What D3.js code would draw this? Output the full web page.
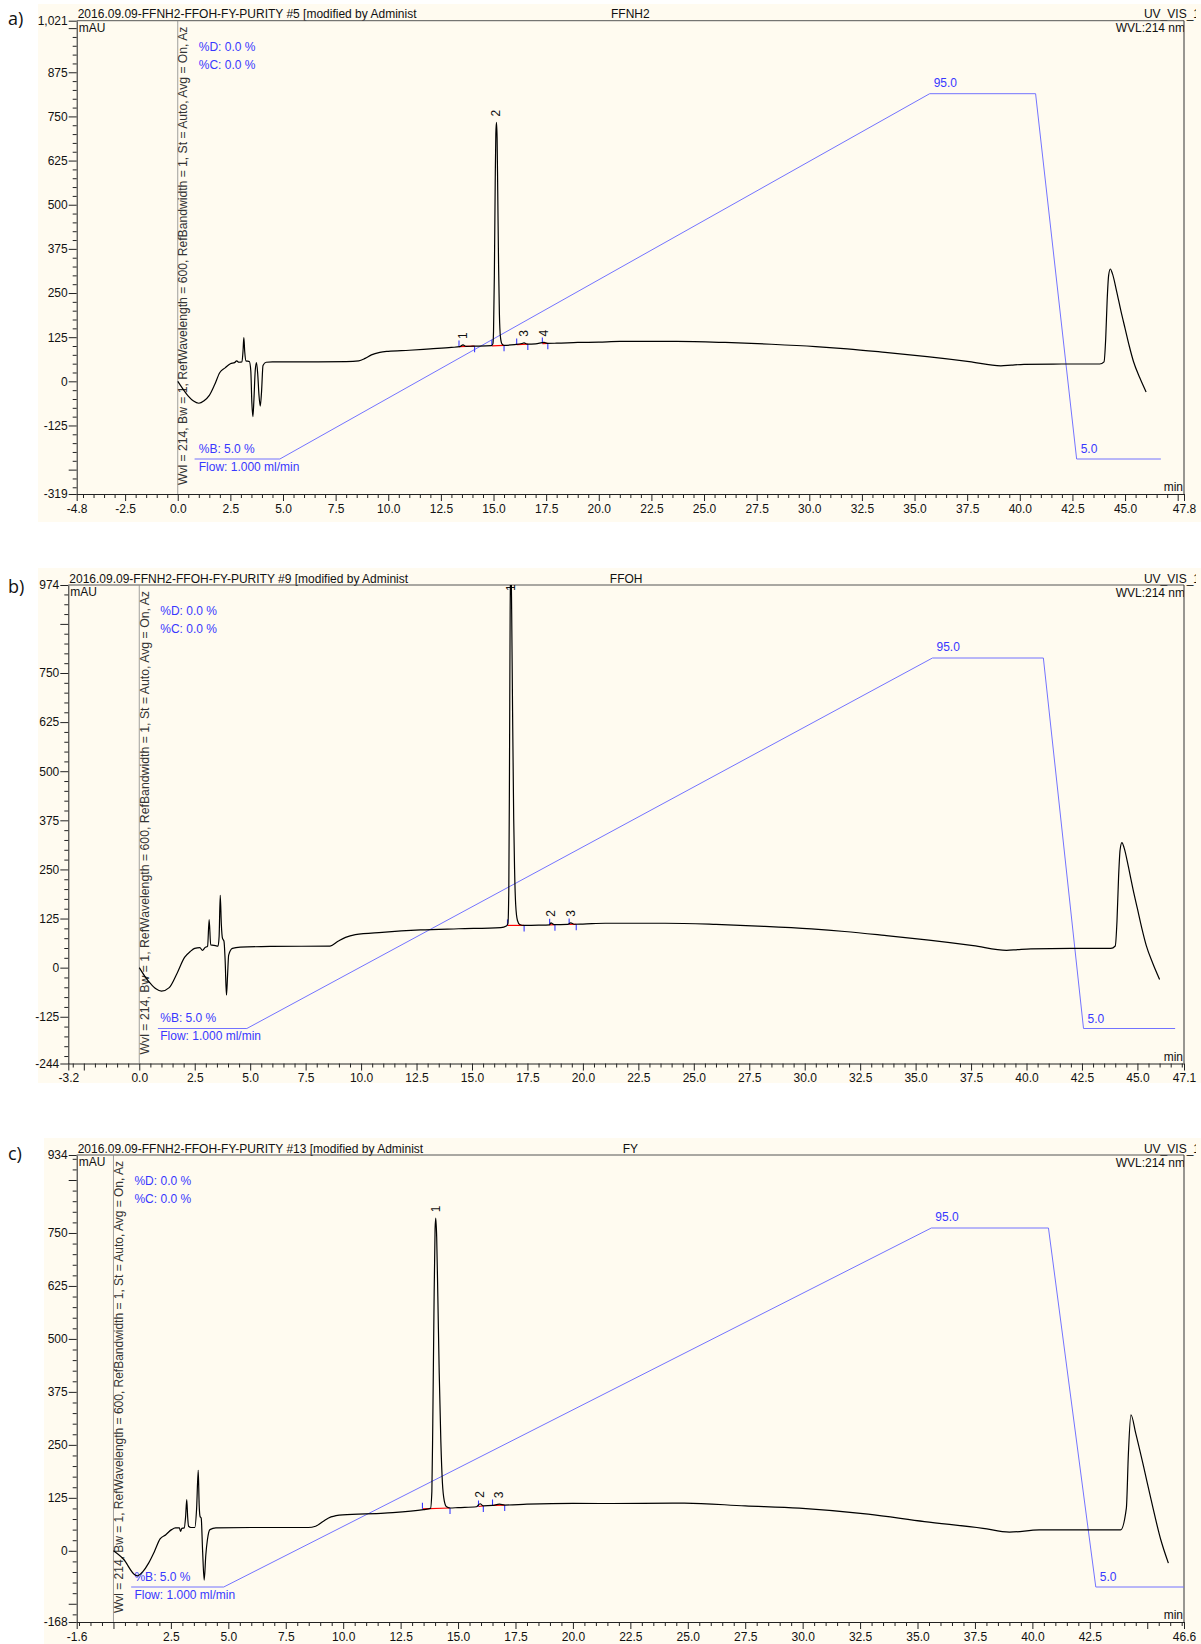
<!DOCTYPE html>
<html>
<head>
<meta charset="utf-8">
<script src="https://cdn.jsdelivr.net/npm/d3@7/dist/d3.min.js"></script>
<style>
body { margin: 0; background: #ffffff; }
svg text { font-family: "Liberation Sans", Arial, sans-serif; }
</style>
</head>
<body>
<script>
// ---- chart values ----
var panelLetters = ["a)", "b)", "c)"];
var runTitles = [
	"2016.09.09-FFNH2-FFOH-FY-PURITY #5 [modified by Administ",
	"2016.09.09-FFNH2-FFOH-FY-PURITY #9 [modified by Administ",
	"2016.09.09-FFNH2-FFOH-FY-PURITY #13 [modified by Administ"
];
var sampleNames = ["FFNH2", "FFOH", "FY"];
var channelName = "UV_VIS_1";
var wavelengthName = "WVL:214 nm";
var detectorInfo = "Wvl = 214, Bw = 1, RefWavelength = 600, RefBandwidth = 1, St = Auto, Avg = On, Az";

var timeDomainA = [-4.8, 47.8];
var timeDomainB = [-3.2, 47.1];
var timeDomainC = [-1.6, 46.6];
var signalDomainA = [-319, 1021];
var signalDomainB = [-244, 974];
var signalDomainC = [-168, 934];

var yTickLabelsA = [1021, 875, 750, 625, 500, 375, 250, 125, 0, -125, -319];
var yTickLabelsB = [974, 750, 625, 500, 375, 250, 125, 0, -125, -244];
var yTickLabelsC = [934, 750, 625, 500, 375, 250, 125, 0, -168];
var xTickLabelsA = [-4.8, -2.5, 0.0, 2.5, 5.0, 7.5, 10.0, 12.5, 15.0, 17.5, 20.0, 22.5, 25.0, 27.5, 30.0, 32.5, 35.0, 37.5, 40.0, 42.5, 45.0, 47.8];
var xTickLabelsB = [-3.2, 0.0, 2.5, 5.0, 7.5, 10.0, 12.5, 15.0, 17.5, 20.0, 22.5, 25.0, 27.5, 30.0, 32.5, 35.0, 37.5, 40.0, 42.5, 45.0, 47.1];
var xTickLabelsC = [-1.6, 2.5, 5.0, 7.5, 10.0, 12.5, 15.0, 17.5, 20.0, 22.5, 25.0, 27.5, 30.0, 32.5, 35.0, 37.5, 40.0, 42.5, 46.6];

// [time min, signal mAU]
var traceA = [
	[0.00, 0], [0.25, -22], [0.50, -42], [0.75, -56], [1.00, -62], [1.25, -55], [1.50, -40], [1.75, -10],
	[2.00, 25], [2.25, 38], [2.50, 50], [2.70, 53], [2.80, 58], [2.90, 54], [3.05, 55], [3.10, 85],
	[3.14, 124], [3.18, 85], [3.24, 58], [3.40, 56], [3.47, 30], [3.52, -60], [3.57, -100], [3.62, -50],
	[3.68, 30], [3.74, 53], [3.80, 20], [3.86, -40], [3.92, -70], [3.98, -30], [4.05, 45], [4.20, 54],
	[4.50, 55], [6.00, 55], [8.00, 56], [8.60, 58], [8.90, 65], [9.20, 75], [9.60, 82], [10.0, 85],
	[11.0, 88], [12.0, 92], [13.0, 96], [13.4, 98], [13.55, 103], [13.7, 99], [14.0, 99.5], [14.9, 101],
	[14.97, 106], [15.00, 140], [15.04, 300], [15.08, 560], [15.11, 700], [15.14, 733], [15.17, 690],
	[15.20, 540], [15.24, 330], [15.28, 190], [15.33, 125], [15.40, 106], [15.50, 102], [16.0, 104],
	[16.35, 107], [16.45, 109], [16.6, 105.5], [17.0, 106], [17.4, 110], [17.55, 107.5], [18.0, 108],
	[19.0, 110], [20.0, 111], [21.0, 113], [23.7, 113], [26.0, 110], [28.2, 105], [30.3, 98.5],
	[31.8, 92], [33.6, 82], [35.6, 70], [37.6, 56], [39.1, 44], [39.6, 46], [40.2, 48], [42.0, 49],
	[43.8, 49], [44.0, 55], [44.08, 120], [44.15, 230], [44.22, 300], [44.3, 318], [44.4, 305],
	[44.6, 255], [44.8, 200], [45.0, 150], [45.2, 100], [45.4, 56], [45.7, 10], [46.0, -30]
];
var traceB = [
	[0.00, 0], [0.25, -22], [0.50, -40], [0.75, -54], [1.00, -60], [1.35, -51], [1.70, -15], [2.04, 26],
	[2.30, 41], [2.50, 49], [2.73, 51], [2.85, 44], [2.96, 51], [3.08, 55], [3.15, 122], [3.22, 58],
	[3.43, 56], [3.55, 55], [3.60, 80], [3.65, 184], [3.70, 110], [3.75, 75], [3.82, 67], [3.87, 20],
	[3.93, -70], [3.98, -20], [4.03, 32], [4.20, 49], [4.55, 52], [6.00, 54], [8.60, 55], [8.96, 67],
	[9.30, 77], [9.74, 84], [10.95, 90], [12.68, 96], [14.40, 99], [16.30, 102], [16.55, 106],
	[16.62, 112], [16.66, 200], [16.69, 500], [16.72, 900], [16.75, 1060], [16.79, 900], [16.83, 650],
	[16.88, 380], [16.92, 250], [16.97, 160], [17.05, 120], [17.15, 110], [17.35, 107.5], [18.0, 108],
	[18.5, 109], [18.56, 114], [18.7, 109.5], [19.3, 110], [19.45, 114], [19.6, 110.5], [20.0, 111],
	[21.0, 113], [23.7, 113], [26.0, 110], [28.2, 105], [30.3, 98.5], [31.8, 92], [33.6, 82], [35.6, 70],
	[37.6, 56], [39.1, 44], [39.6, 46], [40.2, 48], [42.0, 49], [43.8, 49], [44.0, 55], [44.08, 120],
	[44.15, 230], [44.22, 300], [44.3, 318], [44.4, 305], [44.6, 255], [44.8, 200], [45.0, 150],
	[45.2, 100], [45.4, 56], [45.7, 10], [46.0, -30]
];
var traceC = [
	[0.00, 0], [0.44, -20], [0.94, -57], [1.05, -59], [1.28, -49], [1.53, -29], [1.78, -2], [2.03, 28],
	[2.28, 38], [2.53, 50], [2.70, 54], [2.87, 54], [2.92, 46], [2.98, 53], [3.08, 54], [3.14, 80],
	[3.19, 121], [3.23, 80], [3.27, 58], [3.37, 55], [3.54, 55], [3.62, 100], [3.69, 190], [3.73, 110],
	[3.77, 81], [3.82, 77], [3.88, 0], [3.95, -69], [4.02, -10], [4.09, 26], [4.20, 50], [4.46, 54],
	[6.00, 55], [8.47, 55], [8.80, 58], [9.14, 70], [9.47, 80], [9.98, 85], [11.8, 89], [13.5, 97],
	[13.8, 100], [13.86, 140], [13.90, 300], [13.95, 560], [14.00, 760], [14.03, 785], [14.07, 740],
	[14.12, 600], [14.18, 420], [14.25, 260], [14.32, 160], [14.40, 118], [14.50, 104], [14.65, 101],
	[15.0, 102], [15.8, 104], [15.96, 111], [16.1, 106], [16.5, 107], [16.8, 110], [17.03, 108],
	[18.0, 110], [20.0, 112], [21.2, 111.6], [24.85, 112.4], [27.5, 106], [29.85, 100.6], [32.85, 86.4],
	[35.3, 69], [37.85, 53], [39.0, 44], [40.3, 49.3], [43.84, 49.3], [44.09, 100], [44.18, 230],
	[44.29, 321], [44.5, 277], [44.84, 199], [45.17, 120], [45.59, 26], [45.92, -29]
];

// pump gradient, %B against time
var gradientTimeA = [0.8, 4.85, 35.72, 40.75, 42.7, 46.7];
var gradientTimeB = [0.84, 4.85, 35.76, 40.76, 42.57, 46.7];
var gradientTimeC = [0.77, 4.8, 35.6, 40.7, 42.76, 46.6];
var gradientPct = [5, 5, 95, 95, 5, 5];

// integrated peaks: start/end of baseline and apex
var peaksA = [
	{ name: "1", start: 13.36, startV: 98.5, end: 14.1, endV: 99.5, apex: 13.54, apexV: 103 },
	{ name: "2", start: 14.92, startV: 100.5, end: 15.5, endV: 102, apex: 15.14, apexV: 733 },
	{ name: "3", start: 16.1, startV: 104, end: 16.63, endV: 105.5, apex: 16.45, apexV: 109 },
	{ name: "4", start: 17.32, startV: 107, end: 17.58, endV: 107.5, apex: 17.4, apexV: 110 }
];
var peaksB = [
	{ name: "1", start: 16.6, startV: 107.5, end: 17.35, endV: 107.5, apex: 16.75, apexV: 1060 },
	{ name: "2", start: 18.5, startV: 109, end: 18.74, endV: 109.5, apex: 18.56, apexV: 114 },
	{ name: "3", start: 19.38, startV: 110, end: 19.7, endV: 110.5, apex: 19.45, apexV: 114 }
];
var peaksC = [
	{ name: "1", start: 13.45, startV: 99, end: 14.65, endV: 101, apex: 14.03, apexV: 785 },
	{ name: "2", start: 15.89, startV: 104.5, end: 16.1, endV: 106, apex: 15.96, apexV: 111 },
	{ name: "3", start: 16.5, startV: 107, end: 17.03, endV: 108, apex: 16.8, apexV: 110 }
];

// ---- layout of the three panels ----
var panels = [
	{ letter: panelLetters[0], title: runTitles[0], sample: sampleNames[0], timeDomain: timeDomainA, signalDomain: signalDomainA,
	  yLabels: yTickLabelsA, xLabels: xTickLabelsA, trace: traceA, gradTime: gradientTimeA, peaks: peaksA,
	  left: 76.7, right: 1184, top: 20.7, bottom: 494, bgX: 38, bgTop: 4, bgBottom: 522, letterY: 25 },
	{ letter: panelLetters[1], title: runTitles[1], sample: sampleNames[1], timeDomain: timeDomainB, signalDomain: signalDomainB,
	  yLabels: yTickLabelsB, xLabels: xTickLabelsB, trace: traceB, gradTime: gradientTimeB, peaks: peaksB,
	  left: 68.3, right: 1184, top: 585, bottom: 1063.5, bgX: 38, bgTop: 568, bgBottom: 1083, letterY: 593 },
	{ letter: panelLetters[2], title: runTitles[2], sample: sampleNames[2], timeDomain: timeDomainC, signalDomain: signalDomainC,
	  yLabels: yTickLabelsC, xLabels: xTickLabelsC, trace: traceC, gradTime: gradientTimeC, peaks: peaksC,
	  left: 76.7, right: 1184, top: 1155, bottom: 1622, bgX: 44, bgTop: 1138, bgBottom: 1644, letterY: 1160 }
];

var blue = "#3838ff";
var svg = d3.select("body").append("svg").attr("width", 1201).attr("height", 1644);
svg.append("rect").attr("width", 1201).attr("height", 1644).attr("fill", "#ffffff");

// clip for the header text on the right
svg.append("clipPath").attr("id", "clip-page").append("rect").attr("x", 0).attr("y", 0).attr("width", 1196).attr("height", 1644);

function formatSignal(d) {
	return d >= 1000 ? d3.format(",")(d) : String(d);
}

function drawPanel(p, i) {
	var g = svg.append("g");

	//Cream background.
	g.append("rect").attr("x", p.bgX).attr("y", p.bgTop).attr("width", 1201 - p.bgX).attr("height", p.bgBottom - p.bgTop)
		.attr("fill", "#fffbf0");

	g.append("text").attr("x", 8).attr("y", p.letterY).text(p.letter)
		.style("font-family", "'Open Sans', 'Noto Sans', sans-serif").style("font-size", "18px").attr("fill", "#111");

	var x = d3.scaleLinear().domain(p.timeDomain).range([p.left, p.right]);
	var y = d3.scaleLinear().domain(p.signalDomain).range([p.bottom, p.top]);
	var gradY = d3.scaleLinear().domain([5, 95]).range([p.bottom - 35, p.top + 73]);

	var clipId = "clip-" + i;
	svg.append("clipPath").attr("id", clipId).append("rect")
		.attr("x", p.left).attr("y", p.top).attr("width", p.right - p.left).attr("height", p.bottom - p.top);

	//Header texts.
	g.append("text").attr("x", p.left + 1).attr("y", p.top - 2.5).text(p.title).style("font-size", "12px").attr("fill", "#111");
	g.append("text").attr("x", (p.left + p.right) / 2).attr("y", p.top - 2.5).attr("text-anchor", "middle")
		.text(p.sample).style("font-size", "12px").attr("fill", "#111");
	g.append("text").attr("x", 1200).attr("y", p.top - 2.5).attr("text-anchor", "end").attr("clip-path", "url(#clip-page)")
		.text(channelName).style("font-size", "12px").attr("fill", "#111");
	g.append("text").attr("x", p.right + 1).attr("y", p.top + 11.5).attr("text-anchor", "end").attr("clip-path", "url(#" + clipId + ")")
		.text(wavelengthName).style("font-size", "12px").attr("fill", "#111");
	g.append("text").attr("x", p.left + 2).attr("y", p.top + 11).text("mAU").style("font-size", "12px").attr("fill", "#111");
	g.append("text").attr("x", p.right - 1).attr("y", p.bottom - 3).attr("text-anchor", "end").text("min")
		.style("font-size", "12px").attr("fill", "#111");

	//Minor and major ticks of the signal axis.
	var lo = p.signalDomain[0], hi = p.signalDomain[1];
	var minorY = d3.range(Math.ceil(lo / 25) * 25, hi, 25).filter(function(d) { return d % 125 != 0; });
	var majorY = d3.range(Math.ceil(lo / 125) * 125, hi, 125).concat([lo, hi]);
	g.append("g").attr("transform", "translate(" + p.left + ",0)")
		.call(d3.axisLeft(y).tickValues(minorY).tickSize(4).tickSizeOuter(0).tickFormat(""))
		.call(function(a) { a.select(".domain").remove(); });
	g.append("g").attr("class", "yaxis").attr("transform", "translate(" + p.left + ",0)")
		.call(d3.axisLeft(y).tickValues(majorY).tickSize(8).tickSizeOuter(0).tickPadding(1)
			.tickFormat(function(d) { return p.yLabels.indexOf(d) >= 0 ? formatSignal(d) : ""; }));

	//Minor and major ticks of the time axis.
	var tlo = p.timeDomain[0], thi = p.timeDomain[1];
	var minorX = d3.range(Math.ceil(tlo / 0.5) * 0.5, thi, 0.5).filter(function(d) { return Math.abs(d / 2.5 - Math.round(d / 2.5)) > 1e-6; });
	var majorX = d3.range(Math.ceil(tlo / 2.5) * 2.5, thi, 2.5).concat([tlo, thi]);
	g.append("g").attr("transform", "translate(0," + p.bottom + ")")
		.call(d3.axisBottom(x).tickValues(minorX).tickSize(4).tickSizeOuter(0).tickFormat(""))
		.call(function(a) { a.select(".domain").remove(); });
	g.append("g").attr("class", "xaxis").attr("transform", "translate(0," + p.bottom + ")")
		.call(d3.axisBottom(x).tickValues(majorX).tickSize(7).tickSizeOuter(0).tickPadding(3)
			.tickFormat(function(d) {
				var hit = p.xLabels.some(function(v) { return Math.abs(v - d) < 1e-6; });
				return hit ? d.toFixed(1) : "";
			}));

	g.selectAll(".tick line, .domain").attr("stroke", "#222");
	g.selectAll(".tick text").style("font-size", "12px").attr("fill", "#111");

	//Top and right frame.
	g.append("line").attr("x1", p.left).attr("x2", p.right).attr("y1", p.top).attr("y2", p.top).attr("stroke", "#555");
	g.append("line").attr("x1", p.right).attr("x2", p.right).attr("y1", p.top).attr("y2", p.bottom).attr("stroke", "#333");

	//Injection line at time zero with the detector settings along it.
	g.append("line").attr("x1", x(0)).attr("x2", x(0)).attr("y1", p.top).attr("y2", p.bottom).attr("stroke", "#888").attr("stroke-width", 0.8);
	g.append("text").attr("transform", "translate(" + (x(0) + 9.5) + "," + (p.bottom - 9) + ") rotate(-90)")
		.attr("textLength", p.bottom - p.top - 15).attr("lengthAdjust", "spacingAndGlyphs")
		.text(detectorInfo).style("font-size", "12px").attr("fill", "#333");

	g.append("text").attr("x", x(0) + 21).attr("y", p.top + 30).text("%D: 0.0 %").style("font-size", "12px").attr("fill", blue);
	g.append("text").attr("x", x(0) + 21).attr("y", p.top + 48).text("%C: 0.0 %").style("font-size", "12px").attr("fill", blue);

	//Gradient profile.
	var grad = p.gradTime.map(function(t, k) { return [t, gradientPct[k]]; });
	g.append("path").datum(grad).attr("fill", "none").attr("stroke", "#7373ff").attr("stroke-width", 1)
		.attr("d", d3.line().x(function(d) { return x(d[0]); }).y(function(d) { return gradY(d[1]); }));
	g.append("text").attr("x", x(0) + 21).attr("y", gradY(5) - 6.5).text("%B: 5.0 %").style("font-size", "12px").attr("fill", blue);
	g.append("text").attr("x", x(0) + 21).attr("y", gradY(5) + 11.5).text("Flow: 1.000 ml/min").style("font-size", "12px").attr("fill", blue);
	g.append("text").attr("x", x(p.gradTime[2]) + 4).attr("y", gradY(95) - 7).text("95.0").style("font-size", "12px").attr("fill", blue);
	g.append("text").attr("x", x(p.gradTime[4]) + 4).attr("y", gradY(5) - 6).text("5.0").style("font-size", "12px").attr("fill", blue);

	//Integration baselines and delimiters.
	var pk = g.append("g");
	pk.selectAll(".base").data(p.peaks).enter().append("line")
		.attr("x1", function(d) { return x(d.start); }).attr("y1", function(d) { return y(d.startV); })
		.attr("x2", function(d) { return x(d.end); }).attr("y2", function(d) { return y(d.endV); })
		.attr("stroke", "#ff0000").attr("stroke-width", 1.2);
	pk.selectAll(".tstart").data(p.peaks).enter().append("line")
		.attr("x1", function(d) { return x(d.start); }).attr("x2", function(d) { return x(d.start); })
		.attr("y1", function(d) { return y(d.startV); }).attr("y2", function(d) { return y(d.startV) - 6; })
		.attr("stroke", blue).attr("stroke-width", 1.1);
	pk.selectAll(".tend").data(p.peaks).enter().append("line")
		.attr("x1", function(d) { return x(d.end); }).attr("x2", function(d) { return x(d.end); })
		.attr("y1", function(d) { return y(d.endV); }).attr("y2", function(d) { return y(d.endV) + 6; })
		.attr("stroke", blue).attr("stroke-width", 1.1);

	//The chromatogram itself.
	g.append("path").datum(p.trace).attr("clip-path", "url(#" + clipId + ")")
		.attr("fill", "none").attr("stroke", "#000").attr("stroke-width", 1.2).attr("stroke-linejoin", "round")
		.attr("d", d3.line().x(function(d) { return x(d[0]); }).y(function(d) { return y(d[1]); }).curve(d3.curveMonotoneX));

	//Peak numbers, rotated.
	pk.selectAll(".lab").data(p.peaks).enter().append("text")
		.attr("transform", function(d) {
			var ly = Math.max(y(d.apexV) - 6, p.top + 6);
			return "translate(" + x(d.apex) + "," + ly + ") rotate(-90)";
		})
		.attr("dominant-baseline", "central")
		.text(function(d) { return d.name; }).style("font-size", "12px").attr("fill", "#111");
}

panels.forEach(drawPanel);
</script>
</body>
</html>
